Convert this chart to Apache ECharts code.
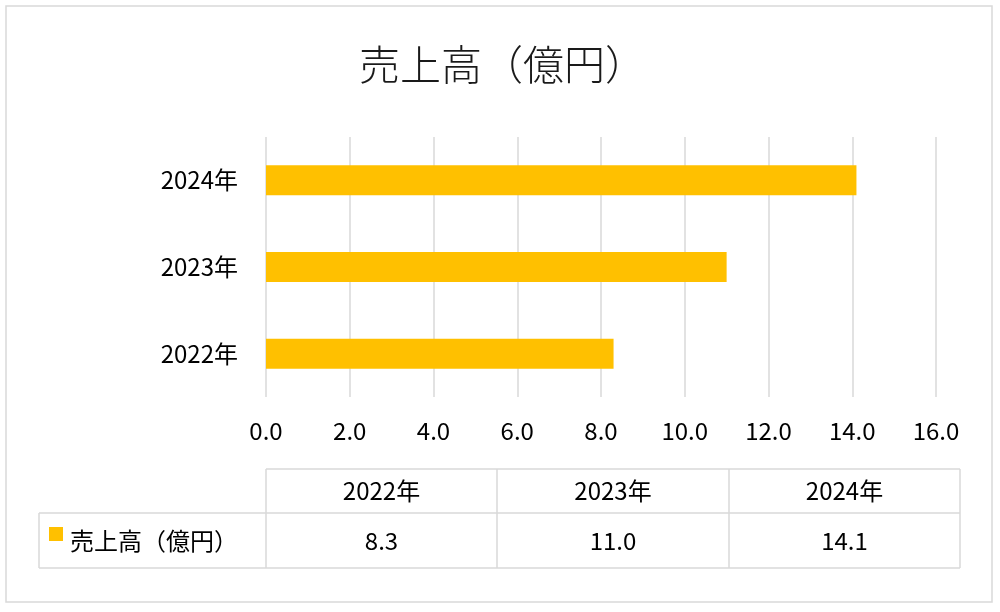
<!DOCTYPE html>
<html>
<head>
<meta charset="utf-8">
<script src="https://cdn.jsdelivr.net/npm/echarts@6/dist/echarts.min.js"></script>
<style>html,body{margin:0;padding:0;background:#fff;}#c{width:1000px;height:612px;}</style>
</head>
<body>
<div id="c"></div>
<script>
const titleText = '売上高（億円）';
const seriesName = '売上高（億円）';
const categories = ['2022年', '2023年', '2024年'];
const values = [8.3, 11.0, 14.1];
const tickMin = 0, tickMax = 16, tickStep = 2;

const FONT = '"Noto Sans CJK JP", "Noto Sans", sans-serif';
const GRID = '#d9d9d9';
const BAR = '#FFC000';

// data table layout
const tblLeft = 39, tblColX = [266, 497, 729, 960], tblY = [469, 513, 568];
const graphics = [];
// outer border
graphics.push({type:'rect', shape:{x:6, y:6, width:986, height:596}, style:{fill:'none', stroke:GRID, lineWidth:1.5}, silent:true});
// table lines
graphics.push({type:'line', shape:{x1:tblColX[0], y1:tblY[0], x2:tblColX[3], y2:tblY[0]}, style:{stroke:GRID, lineWidth:1.5}});
graphics.push({type:'line', shape:{x1:tblLeft, y1:tblY[1], x2:tblColX[3], y2:tblY[1]}, style:{stroke:GRID, lineWidth:1.5}});
graphics.push({type:'line', shape:{x1:tblLeft, y1:tblY[2], x2:tblColX[3], y2:tblY[2]}, style:{stroke:GRID, lineWidth:1.5}});
graphics.push({type:'line', shape:{x1:tblLeft, y1:tblY[1], x2:tblLeft, y2:tblY[2]}, style:{stroke:GRID, lineWidth:1.5}});
tblColX.forEach(function(x){
  graphics.push({type:'line', shape:{x1:x, y1:tblY[0], x2:x, y2:tblY[2]}, style:{stroke:GRID, lineWidth:1.5}});
});
categories.forEach(function(c, i){
  const cx = (tblColX[i] + tblColX[i+1]) / 2;
  graphics.push({type:'text', x:cx, y:(tblY[0]+tblY[1])/2, style:{text:c, font:'24px ' + FONT, fill:'#000', textAlign:'center', textVerticalAlign:'middle'}});
  graphics.push({type:'text', x:cx, y:(tblY[1]+tblY[2])/2, style:{text:values[i].toFixed(1), font:'24px ' + FONT, fill:'#000', textAlign:'center', textVerticalAlign:'middle'}});
});
// legend key + series name
graphics.push({type:'rect', shape:{x:49, y:527, width:14, height:14}, style:{fill:BAR}});
graphics.push({type:'text', x:70, y:(tblY[1]+tblY[2])/2, style:{text:seriesName, font:'24px ' + FONT, fill:'#000', textAlign:'left', textVerticalAlign:'middle'}});

const chart = echarts.init(document.getElementById('c'));
chart.setOption({
  backgroundColor:'#fff',
  animation:false,
  title:{text:titleText, left:354, top:39, textStyle:{fontFamily:FONT, fontSize:41, fontWeight:300, color:'#1a1a1a'}},
  grid:{left:266, right:64, top:137, height:260, containLabel:false},
  xAxis:{type:'value', min:tickMin, max:tickMax, interval:tickStep,
    axisLine:{show:false}, axisTick:{show:false},
    splitLine:{show:true, lineStyle:{color:GRID, width:1.5}},
    axisLabel:{margin:22, fontFamily:FONT, fontSize:24, color:'#000', formatter:function(v){return v.toFixed(1);}}},
  yAxis:{type:'category', data:categories,
    axisLine:{show:false}, axisTick:{show:false},
    axisLabel:{margin:28, fontFamily:FONT, fontSize:24, color:'#000'}},
  series:[{type:'bar', name:seriesName, data:values, barWidth:30, itemStyle:{color:BAR}}],
  graphic:graphics
});
</script>
</body>
</html>
